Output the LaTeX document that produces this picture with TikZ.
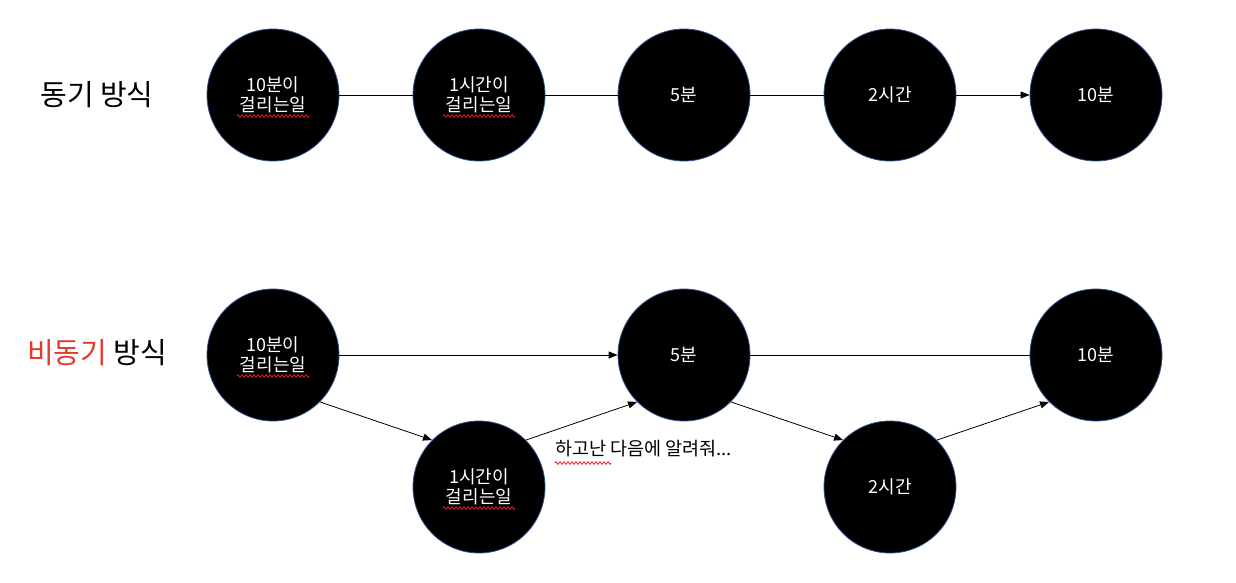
\documentclass[tikz,border=0pt]{standalone}
\usepackage{fontspec}
\setmainfont{Noto Sans CJK KR}
\usetikzlibrary{arrows.meta,decorations.pathmorphing,calc}
\definecolor{circblue}{HTML}{2F528F}
\definecolor{kred}{HTML}{E8382E}
\definecolor{squig}{HTML}{E02020}
\begin{document}
\begin{tikzpicture}[x=1pt,y=-1pt,
  circ/.style={circle,fill=black,draw=circblue,line width=0.8pt,minimum size=132pt,inner sep=0pt,
    text=white,font=\fontsize{18}{19.5}\selectfont,align=center},
  title/.style={font=\fontsize{29}{32}\selectfont,inner sep=0pt},
  note/.style={font=\fontsize{18.5}{22}\selectfont,inner sep=0pt,anchor=west},
  conn/.style={line width=0.8pt},
  arr/.style={conn,-{Triangle[length=9pt,width=7pt]}},
  squiggle/.style={squig,line width=0.8pt,decorate,decoration={zigzag,amplitude=1.3pt,segment length=4pt}}
]
\useasboundingbox (0,0) rectangle (1236,582);

% top row
\node[title] (t1) at (97,95) {동기 방식};
\node[circ] (a1) at (273,95) {10분이\\걸리는일};
\node[circ] (a2) at (479,95) {1시간이\\걸리는일};
\node[circ] (a3) at (684,95) {5분};
\node[circ] (a4) at (890,95) {2시간};
\node[circ] (a5) at (1096,95) {10분};
\draw[conn] (a1) -- (a2);
\draw[conn] (a2) -- (a3);
\draw[conn] (a3) -- (a4);
\draw[arr] (a4) -- (a5);

% bottom row
\node[title] (t2) at (97,353) {\textcolor{kred}{비동기} 방식};
\node[circ] (b1) at (273,355) {10분이\\걸리는일};
\node[circ] (b2) at (479,487) {1시간이\\걸리는일};
\node[circ] (b3) at (684,355) {5분};
\node[circ] (b4) at (890,487) {2시간};
\node[circ] (b5) at (1096,355) {10분};
\node[note] (n1) at (555,449) {하고난 다음에 알려줘...};
\draw[arr] (b1) -- (b3);
\draw[arr] (b1.south east) -- (b2.north west);
\draw[arr] (b2.north east) -- (b3.south west);
\draw[conn] (b3) -- (b5);
\draw[arr] (b3.south east) -- (b4.north west);
\draw[arr] (b4.north east) -- (b5.south west);

% spell-check squiggles
\foreach \n in {a1,a2,b1,b2}{
  \draw[squiggle] ($(\n.center)+(-36,21)$) -- ($(\n.center)+(36,21)$);
}
\draw[squiggle] ($(n1.west)+(0,14)$) -- ($(n1.west)+(56,14)$);
\end{tikzpicture}
\end{document}
